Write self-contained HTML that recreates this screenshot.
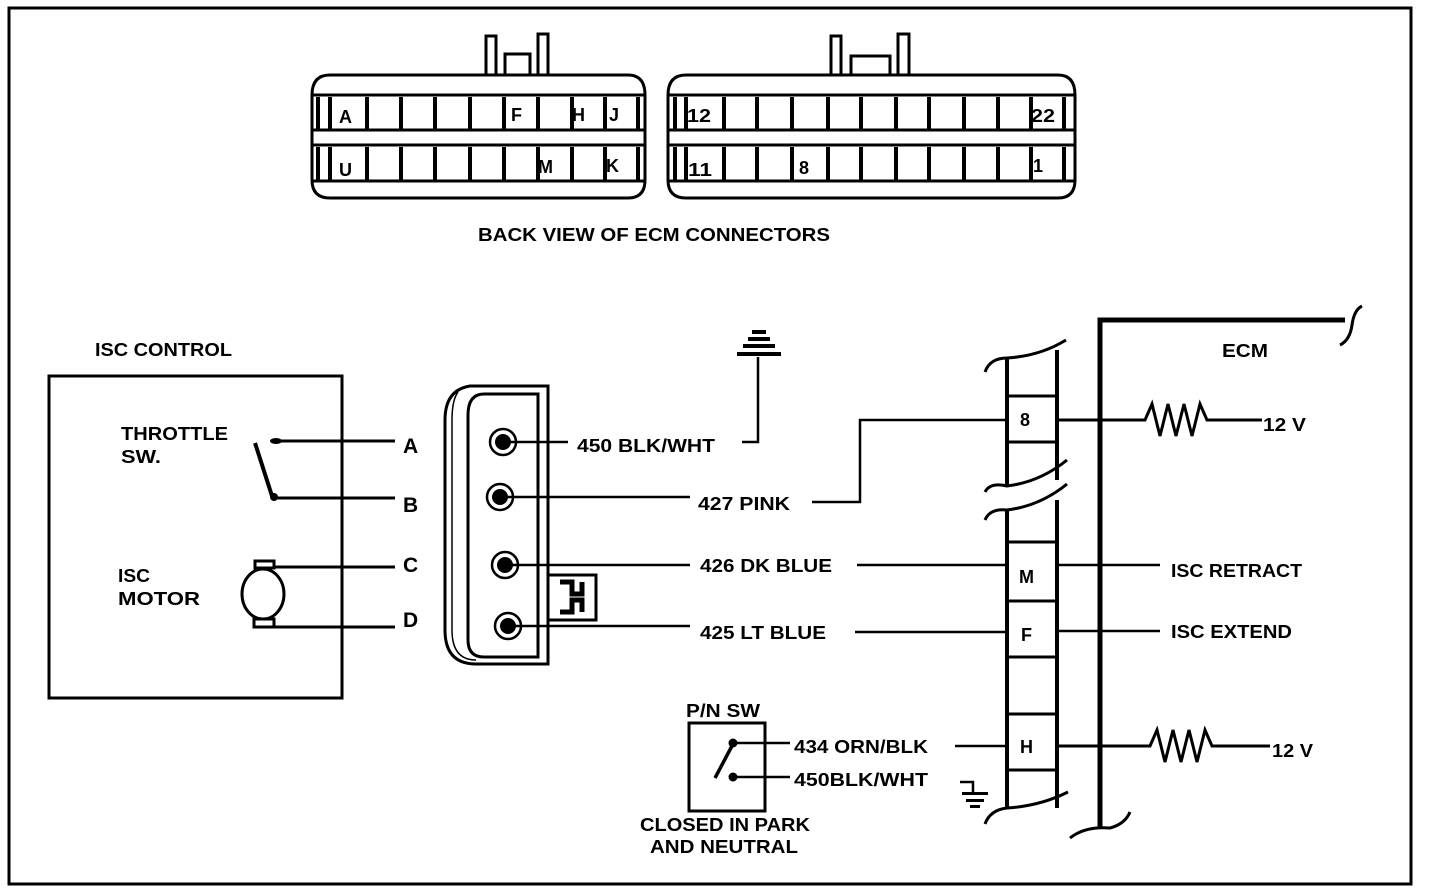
<!DOCTYPE html>
<html><head><meta charset="utf-8"><style>
html,body{margin:0;padding:0;background:#fff}
svg{display:block}
text{font-family:"Liberation Sans",sans-serif;font-weight:bold;fill:#000}
</style></head><body>
<svg width="1440" height="896" viewBox="0 0 1440 896" xmlns="http://www.w3.org/2000/svg">
<rect x="0" y="0" width="1440" height="896" fill="#fff"/>
<rect x="9" y="8" width="1402" height="876" fill="none" stroke="#000" stroke-width="3"/>

<g fill="none" stroke="#000" stroke-width="3">
<path d="M486 75 V36 H496 V75 M538 75 V34 H548 V75 M505 75 V54 H530 V75"/>
<path d="M330 75 H628 Q645 75 645 95 V180 Q645 198 628 198 H330 Q312 198 312 180 V95 Q312 75 330 75 Z"/>
<path d="M312 95 H645 M312 130 H645 M312 145 H645 M312 181 H645"/>
<g stroke-width="4">
<path d="M318 97V130M330 97V130M367 97V130M401 97V130M435 97V130M470 97V130M504 97V130M538 97V130M572 97V130M605 97V130M638 97V130"/>
<path d="M318 147V181M330 147V181M367 147V181M401 147V181M435 147V181M470 147V181M504 147V181M538 147V181M572 147V181M605 147V181M638 147V181"/>
</g>
<path d="M831 75 V36 H841 V75 M898 75 V34 H909 V75 M851 75 V56 H890 V75"/>
<path d="M686 75 H1058 Q1075 75 1075 95 V180 Q1075 198 1058 198 H686 Q668 198 668 180 V95 Q668 75 686 75 Z"/>
<path d="M668 95 H1075 M668 130 H1075 M668 145 H1075 M668 181 H1075"/>
<g stroke-width="4">
<path d="M675 97V130M686 97V130M724 97V130M757 97V130M792 97V130M828 97V130M861 97V130M896 97V130M929 97V130M964 97V130M998 97V130M1031 97V130M1064 97V130"/>
<path d="M675 147V181M686 147V181M724 147V181M757 147V181M792 147V181M828 147V181M861 147V181M896 147V181M929 147V181M964 147V181M998 147V181M1031 147V181M1064 147V181"/>
</g>
</g>
<g font-size="18">
<text x="339" y="123">A</text><text x="511" y="121">F</text><text x="572" y="121">H</text><text x="609" y="121">J</text>
<text x="339" y="176">U</text><text x="538" y="173">M</text><text x="606" y="172">K</text>
<text x="687" y="122" textLength="24" lengthAdjust="spacingAndGlyphs">12</text><text x="1031" y="122" textLength="24" lengthAdjust="spacingAndGlyphs">22</text>
<text x="688" y="176" textLength="24" lengthAdjust="spacingAndGlyphs">11</text><text x="799" y="174">8</text><text x="1033" y="172">1</text>
</g>
<text x="478" y="241" font-size="18" textLength="352" lengthAdjust="spacingAndGlyphs">BACK VIEW OF ECM CONNECTORS</text>

<text x="95" y="356" font-size="18" textLength="137" lengthAdjust="spacingAndGlyphs">ISC CONTROL</text>
<rect x="49" y="376" width="293" height="322" fill="none" stroke="#000" stroke-width="3"/>
<text x="121" y="440" font-size="18" textLength="107" lengthAdjust="spacingAndGlyphs">THROTTLE</text>
<text x="121" y="463" font-size="18" textLength="40" lengthAdjust="spacingAndGlyphs">SW.</text>
<text x="118" y="582" font-size="18" textLength="32" lengthAdjust="spacingAndGlyphs">ISC</text>
<text x="118" y="605" font-size="18" textLength="82" lengthAdjust="spacingAndGlyphs">MOTOR</text>
<g stroke="#000" fill="none" stroke-width="3">
<path d="M255 443 L272 496" stroke-width="4"/>
<path d="M278 441 H395 M274 498 H395 M275 567 H395 M275 627 H395"/>
<ellipse cx="263" cy="594" rx="21" ry="25"/>
<rect x="255" y="561" width="19" height="7"/>
<rect x="254" y="619" width="20" height="8"/>
</g>
<ellipse cx="276" cy="441" rx="6" ry="3" fill="#000"/>
<circle cx="274" cy="497" r="4" fill="#000"/>
<g font-size="21" font-weight="normal" style="font-weight:bold"><text x="403" y="453">A</text><text x="403" y="512">B</text><text x="403" y="572">C</text><text x="403" y="627">D</text></g>

<g stroke="#000" fill="none">
<path d="M470 386 H548 V664 H476 Q445 664 445 630 V420 Q445 390 470 386 Z" stroke-width="3"/>
<path d="M484 394 H538 V657 H484 Q468 657 468 640 V415 Q468 394 484 394 Z" stroke-width="3"/>
<path d="M458 392 Q452 400 452 420 V630 Q452 660 476 660" stroke-width="1.5"/>
<rect x="548" y="575" width="48" height="45" stroke-width="3"/>
<path d="M560 582 H572 V594 H582 V582 M560 612 H572 V600 H582 V612" stroke-width="5"/>
</g>
<g stroke="#000" stroke-width="2.5" fill="#fff">
<circle cx="503" cy="442" r="13"/><circle cx="500" cy="497" r="13"/><circle cx="505" cy="565" r="13"/><circle cx="508" cy="626" r="13"/>
</g>
<g fill="#000"><circle cx="503" cy="442" r="8"/><circle cx="500" cy="497" r="8"/><circle cx="505" cy="565" r="8"/><circle cx="508" cy="626" r="8"/></g>
<g stroke="#000" stroke-width="2.5" fill="none">
<path d="M503 442 H568 M500 497 H690 M505 565 H690 M508 626 H690"/>
<path d="M742 442 H758 V357"/>
<path d="M812 502 H860 V420 H1005"/>
<path d="M857 565 H1005 M855 632 H1005 M955 746 H1005"/>
</g>
<g fill="#000">
<rect x="752" y="330" width="14" height="4"/><rect x="748" y="337" width="22" height="4"/><rect x="743" y="344" width="32" height="4"/><rect x="737" y="352" width="44" height="4"/>
</g>
<g font-size="18">
<text x="577" y="452" textLength="138" lengthAdjust="spacingAndGlyphs">450 BLK/WHT</text>
<text x="698" y="510" textLength="92" lengthAdjust="spacingAndGlyphs">427 PINK</text>
<text x="700" y="572" textLength="132" lengthAdjust="spacingAndGlyphs">426 DK BLUE</text>
<text x="700" y="639" textLength="126" lengthAdjust="spacingAndGlyphs">425 LT BLUE</text>
</g>

<g stroke="#000" fill="none" stroke-width="4">
<path d="M1007 358 V487 M1057 350 V480 M1007 510 V808 M1057 500 V808"/>
<path d="M985 372 Q990 358 1007 358 Q1040 356 1066 340" stroke-width="3"/>
<path d="M985 492 Q990 482 1007 486 Q1040 482 1067 460" stroke-width="3"/>
<path d="M985 520 Q990 508 1007 510 Q1040 506 1067 484" stroke-width="3"/>
<path d="M985 824 Q990 810 1007 808 Q1040 806 1068 792" stroke-width="3"/>
<path d="M1007 396 H1057 M1007 442 H1057 M1007 542 H1057 M1007 601 H1057 M1007 657 H1057 M1007 714 H1057 M1007 770 H1057" stroke-width="3"/>
<path d="M1100 828 V320 H1345" stroke-width="5"/>
<path d="M1070 838 Q1085 826 1110 828 Q1125 824 1130 812" stroke-width="3"/>
<path d="M1340 345 Q1350 340 1352 325 Q1354 310 1362 306" stroke-width="3"/>
</g>
<g stroke="#000" stroke-width="2.5" fill="none">
<path d="M1057 420 H1145 L1152 404 L1160 436 L1168 404 L1176 436 L1184 404 L1192 436 L1200 404 L1207 420 H1262" stroke-width="3"/>
<path d="M1057 746 H1150 L1157 730 L1165 762 L1173 730 L1181 762 L1189 730 L1197 762 L1205 730 L1212 746 H1270" stroke-width="3"/>
<path d="M1057 565 H1160 M1057 631 H1160"/>
</g>
<g font-size="18">
<text x="1020" y="426">8</text><text x="1019" y="583">M</text><text x="1021" y="641">F</text><text x="1020" y="753">H</text>
<text x="1222" y="357" textLength="46" lengthAdjust="spacingAndGlyphs">ECM</text>
<text x="1263" y="431" textLength="43" lengthAdjust="spacingAndGlyphs">12 V</text><text x="1272" y="757" textLength="41" lengthAdjust="spacingAndGlyphs">12 V</text>
<text x="1171" y="577" textLength="131" lengthAdjust="spacingAndGlyphs">ISC RETRACT</text>
<text x="1171" y="638" textLength="121" lengthAdjust="spacingAndGlyphs">ISC EXTEND</text>
</g>

<text x="686" y="717" font-size="18" textLength="74" lengthAdjust="spacingAndGlyphs">P/N SW</text>
<rect x="689" y="723" width="76" height="88" fill="none" stroke="#000" stroke-width="3"/>
<g stroke="#000" stroke-width="2.5" fill="none">
<path d="M733 744 L715 778" stroke-width="3.5"/>
<path d="M733 743 H790 M733 777 H790"/>
<path d="M960 782 H973 V792"/>
</g>
<circle cx="733" cy="743" r="4.5" fill="#000"/><circle cx="733" cy="777" r="4.5" fill="#000"/>
<g fill="#000"><rect x="962" y="792" width="26" height="3"/><rect x="966" y="799" width="18" height="3"/><rect x="970" y="805" width="10" height="3"/></g>
<g font-size="18">
<text x="794" y="753" textLength="134" lengthAdjust="spacingAndGlyphs">434 ORN/BLK</text>
<text x="794" y="786" textLength="134" lengthAdjust="spacingAndGlyphs">450BLK/WHT</text>
<text x="640" y="831" textLength="170" lengthAdjust="spacingAndGlyphs">CLOSED IN PARK</text>
<text x="650" y="853" textLength="148" lengthAdjust="spacingAndGlyphs">AND NEUTRAL</text>
</g>
</svg>
</body></html>
